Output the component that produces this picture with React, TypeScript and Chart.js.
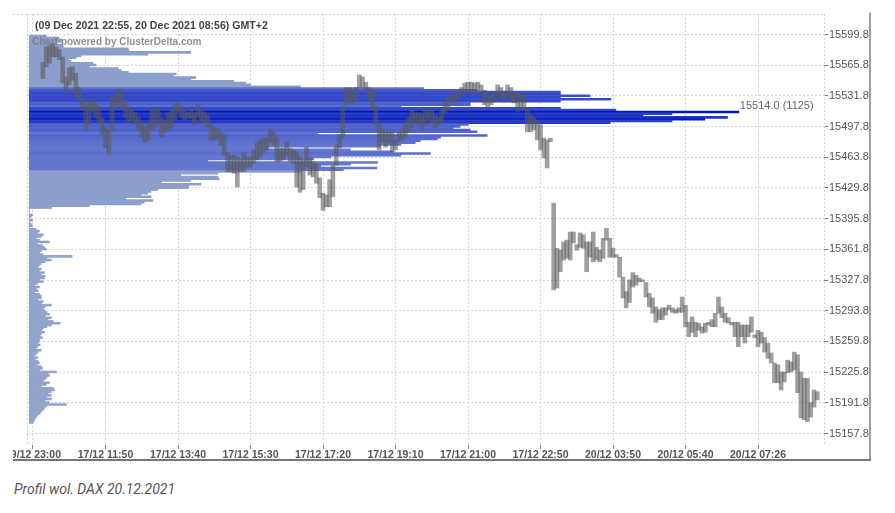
import React, { useEffect, useRef } from 'react';
import { Chart, registerables } from 'chart.js';

Chart.register(...registerables);

// ---------- data ----------
const titleText = '(09 Dec 2021 22:55, 20 Dec 2021 08:56) GMT+2';
const watermarkText = 'Chart powered by ClusterDelta.com';
const captionText = 'Profil wol. DAX 20.12.2021';

// x axis: tick positions (bar index) and labels
const xTickIndex = [0, 22, 44, 66, 88, 110, 132, 154, 176, 198, 220];
const xTickLabels = [
  '09/12 23:00', '17/12 11:50', '17/12 13:40', '17/12 15:30', '17/12 17:20', '17/12 19:10',
  '17/12 21:00', '17/12 22:50', '20/12 03:50', '20/12 05:40', '20/12 07:26',
];
const firstBarIndex = 3;

// y axis ticks (price)
const yTickValues = [
  15157.8, 15191.8, 15225.8, 15259.8, 15293.8, 15327.8, 15361.8,
  15395.8, 15429.8, 15463.8, 15497.8, 15531.8, 15565.8, 15599.8,
];

// price bars (high / low), one per bar
const candleHigh = [
  15569, 15586, 15588, 15590, 15586, 15583, 15575, 15553, 15563, 15564,
  15557, 15541, 15529, 15520, 15527, 15529, 15524, 15520, 15507, 15497,
  15494, 15531, 15535, 15539, 15535, 15527, 15520, 15516, 15514, 15508,
  15502, 15497, 15502, 15516, 15518, 15518, 15507, 15505, 15513, 15516,
  15522, 15524, 15520, 15516, 15514, 15520, 15513, 15522, 15516, 15514,
  15511, 15500, 15497, 15496, 15492, 15489, 15469, 15466, 15466, 15464,
  15461, 15469, 15464, 15464, 15472, 15480, 15483, 15485, 15485, 15494,
  15492, 15486, 15474, 15474, 15481, 15474, 15472, 15470, 15464, 15461,
  15475, 15463, 15459, 15457, 15441, 15424, 15422, 15439, 15455, 15477,
  15489, 15520, 15541, 15541, 15536, 15541, 15555, 15553, 15547, 15541,
  15538, 15520, 15502, 15496, 15491, 15492, 15492, 15483, 15492, 15496,
  15502, 15508, 15516, 15513, 15513, 15511, 15516, 15516, 15516, 15511,
  15508, 15516, 15524, 15531, 15535, 15533, 15536, 15541, 15546, 15547,
  15547, 15546, 15547, 15544, 15538, 15533, 15533, 15535, 15544, 15541,
  15535, 15544, 15541, 15535, 15535, 15535, 15533, 15516, 15511, 15508,
  15505, 15500, 15485, 15483, 15485, 15413, 15363, 15361, 15370, 15372,
  15381, 15381, 15367, 15380, 15378, 15370, 15370, 15381, 15364, 15361,
  15374, 15385, 15374, 15363, 15356, 15353, 15331, 15315, 15328, 15336,
  15333, 15330, 15328, 15325, 15313, 15308, 15298, 15295, 15297, 15297,
  15300, 15297, 15295, 15297, 15309, 15300, 15281, 15287, 15281, 15280,
  15276, 15280, 15281, 15284, 15291, 15309, 15298, 15291, 15286, 15281,
  15281, 15281, 15278, 15278, 15278, 15287, 15267, 15272, 15270, 15264,
  15258, 15247, 15236, 15234, 15226, 15226, 15239, 15237, 15248, 15245,
  15226, 15219, 15219, 15192, 15206, 15204,
];
const candleLow = [
  15551, 15564, 15568, 15575, 15575, 15572, 15546, 15537, 15544, 15549,
  15531, 15527, 15516, 15494, 15500, 15514, 15508, 15502, 15489, 15474,
  15467, 15494, 15518, 15520, 15518, 15508, 15503, 15505, 15500, 15494,
  15486, 15480, 15483, 15494, 15497, 15502, 15486, 15491, 15494, 15497,
  15505, 15513, 15508, 15505, 15507, 15507, 15500, 15508, 15503, 15502,
  15497, 15483, 15483, 15483, 15477, 15466, 15448, 15448, 15446, 15431,
  15448, 15448, 15453, 15453, 15457, 15461, 15464, 15469, 15472, 15480,
  15477, 15459, 15459, 15461, 15466, 15459, 15457, 15431, 15425, 15428,
  15453, 15444, 15442, 15435, 15419, 15405, 15409, 15409, 15420, 15455,
  15474, 15486, 15522, 15524, 15524, 15525, 15541, 15541, 15538, 15527,
  15516, 15500, 15472, 15481, 15475, 15480, 15470, 15472, 15481, 15483,
  15486, 15492, 15497, 15502, 15500, 15494, 15500, 15505, 15502, 15497,
  15500, 15502, 15513, 15516, 15525, 15524, 15529, 15533, 15535, 15538,
  15535, 15535, 15536, 15535, 15522, 15518, 15522, 15525, 15531, 15529,
  15525, 15531, 15525, 15524, 15514, 15520, 15516, 15492, 15492, 15494,
  15483, 15472, 15463, 15452, 15481, 15317, 15319, 15337, 15350, 15352,
  15350, 15369, 15361, 15364, 15363, 15337, 15353, 15348, 15350, 15348,
  15352, 15372, 15353, 15353, 15353, 15331, 15308, 15297, 15303, 15320,
  15322, 15326, 15326, 15309, 15298, 15291, 15281, 15284, 15284, 15289,
  15295, 15292, 15291, 15292, 15292, 15276, 15265, 15270, 15265, 15272,
  15269, 15270, 15278, 15276, 15276, 15291, 15286, 15281, 15280, 15278,
  15265, 15254, 15265, 15258, 15265, 15270, 15264, 15254, 15258, 15248,
  15241, 15236, 15214, 15214, 15206, 15215, 15225, 15226, 15228, 15203,
  15175, 15173, 15171, 15176, 15187, 15195,
];

// volume profile: volumes on a 2-point price grid, top to bottom
const profileStep = 2;
const profileUpperTop = 15598;
const profileUpper = [
  27, 47, 51, 51, 43, 51, 54, 157, 158, 256,
  188, 82, 74, 63, 66, 101, 106, 95, 141, 146,
  157, 233, 228, 264, 256, 324, 343, 351, 430, 625,
  710, 842, 842, 889, 842, 922, 842, 699, 699, 589,
  842, 930, 1125, 1019, 973, 1107, 1071, 1019, 921, 696,
  683, 672, 699, 710, 457, 726, 652, 647, 620, 612,
  589, 557, 378, 509, 577, 636, 589, 478, 451, 283,
  552, 509, 462, 551, 498, 430, 299, 240, 299, 301,
  256, 209, 272, 253, 252, 204, 193, 188, 177, 193,
  153, 196, 182, 177, 95, 35, 0, 0, 0, 5,
  3, 0, 5, 0, 3, 5, 0,
];
const profileLowerTop = 15384;
const profileLower = [
  11, 16, 13, 22, 19, 11, 16, 32, 13, 21,
  24, 27, 19, 16, 22, 68, 28, 35, 25, 19,
  16, 14, 19, 16, 24, 19, 25, 24, 16, 22,
  13, 9, 16, 11, 14, 9, 16, 19, 19, 14,
  22, 19, 35, 25, 22, 25, 28, 32, 25, 35,
  30, 38, 49, 35, 28, 22, 19, 24, 19, 17,
  21, 16, 16, 14, 17, 13, 11, 19, 14, 11,
  8, 13, 9, 14, 16, 13, 19, 21, 17, 43,
  30, 32, 28, 25, 22, 32, 27, 19, 38, 40,
  35, 30, 35, 28, 35, 25, 32, 59, 27, 24,
  22, 19, 17, 14, 11, 9, 8, 6,
];
const pocPrice = 15514.0;
const pocVolume = 1125;
const valueAreaHigh = 15541;
const valueAreaLow = 15449;

// ---------- derived ----------
const candleData = candleHigh.map((h, j) => ({ x: j + firstBarIndex, y: [candleLow[j], h] }));
const profileData = [
  ...profileUpper.map((v, i) => ({ x: v, y: profileUpperTop - i * profileStep })),
  ...profileLower.map((v, i) => ({ x: v, y: profileLowerTop - i * profileStep })),
];
const profileColors = profileData.map((d, i) => {
  if (d.y >= valueAreaLow && d.y <= valueAreaHigh) {
    let t = Math.min(1, Math.max(0, (d.x / pocVolume - 0.5) / 0.5));
    if (i % 2 === 1) t *= 0.7;
    const r = Math.round(100 * (1 - t) + 0 * t);
    const g = Math.round(118 * (1 - t) + 24 * t);
    const b = Math.round(206 * (1 - t) + 192 * t);
    return `rgb(${r},${g},${b})`;
  }
  return d.y < profileLowerTop + 1 ? 'rgb(146,164,204)' : 'rgb(140,158,203)';
});

const FONT = '"Liberation Sans", Arial, sans-serif';

const overlayPlugin = {
  id: 'overlay',
  beforeDatasetsDraw(chart: any) {
    const { ctx, chartArea: a } = chart;
    ctx.save();
    ctx.strokeStyle = '#d2d2d2';
    ctx.lineWidth = 1;
    ctx.setLineDash([2, 2]);
    ctx.beginPath();
    ctx.moveTo(0, Math.round(a.top) + 0.5);
    ctx.lineTo(a.right, Math.round(a.top) + 0.5);
    ctx.moveTo(Math.round(a.left) + 0.5, a.top);
    ctx.lineTo(Math.round(a.left) + 0.5, a.bottom);
    ctx.moveTo(Math.round(a.right) + 0.5, a.top);
    ctx.lineTo(Math.round(a.right) + 0.5, a.bottom);
    ctx.stroke();
    ctx.restore();
  },
  afterDraw(chart: any) {
    const { ctx, scales } = chart;
    const W = chart.width;
    const H = chart.height;
    ctx.save();
    // frame
    ctx.strokeStyle = '#777';
    ctx.lineWidth = 2;
    ctx.beginPath();
    ctx.moveTo(0, H - 1);
    ctx.lineTo(W, H - 1);
    ctx.stroke();
    ctx.lineWidth = 1.4;
    ctx.beginPath();
    ctx.moveTo(W - 1, 12.5);
    ctx.lineTo(W - 1, H);
    ctx.stroke();
    // title
    ctx.textBaseline = 'alphabetic';
    ctx.textAlign = 'left';
    ctx.fillStyle = '#444';
    ctx.font = `bold 10.6px ${FONT}`;
    ctx.fillText(titleText, 22, 29);
    // watermark
    ctx.fillStyle = 'rgba(125,125,125,0.85)';
    ctx.font = `bold 10px ${FONT}`;
    ctx.fillText(watermarkText, 19, 44.5);
    // POC label
    const px = scales.xv.getPixelForValue(pocVolume) + 1;
    const py = scales.y.getPixelForValue(pocPrice) - 2.5;
    ctx.fillStyle = '#666';
    ctx.font = `11px ${FONT}`;
    ctx.fillText(`${pocPrice.toFixed(1)} (${pocVolume})`, px, py);
    ctx.restore();
  },
};

export default function App() {
  const ref = useRef<HTMLCanvasElement>(null);
  useEffect(() => {
    const canvas = ref.current;
    if (!canvas) return;
    const chart = new Chart(canvas, {
      type: 'bar',
      data: {
        datasets: [
          {
            label: 'price',
            data: candleData as any,
            xAxisID: 'x',
            yAxisID: 'y',
            indexAxis: 'x',
            grouped: false,
            barThickness: 4,
            backgroundColor: 'rgba(90,90,90,0.58)',
            borderWidth: 0,
            order: 0,
          } as any,
          {
            label: 'profile',
            data: profileData as any,
            xAxisID: 'xv',
            yAxisID: 'y',
            indexAxis: 'y',
            grouped: false,
            barThickness: 1.9,
            backgroundColor: profileColors,
            borderWidth: 0,
            order: 1,
          } as any,
        ],
      },
      options: {
        animation: false,
        responsive: false,
        events: [],
        devicePixelRatio: 1,
        layout: { padding: { left: 14, top: 14, right: 0, bottom: 0 } },
        plugins: { legend: { display: false }, tooltip: { enabled: false }, title: { display: false } },
        scales: {
          x: {
            type: 'linear',
            position: 'bottom',
            min: -1.82,
            max: 240.02,
            offset: false,
            afterBuildTicks: (s: any) => {
              s.ticks = xTickIndex.map((v) => ({ value: v }));
            },
            afterFit: (s: any) => {
              s.height = 16;
              s.paddingLeft = 0;
              s.paddingRight = 0;
            },
            ticks: {
              autoSkip: false,
              maxRotation: 0,
              minRotation: 0,
              padding: 0,
              color: '#555',
              font: { family: FONT, size: 10.5, weight: 'bold' },
              callback: (_v: any, i: number) => xTickLabels[i],
            },
            grid: { color: '#d6d6d6', offset: false, tickLength: 4, tickColor: '#888', drawTicks: true },
            border: { display: false, dash: [2, 2] },
          } as any,
          y: {
            type: 'linear',
            position: 'right',
            min: 15145.06,
            max: 15622.51,
            offset: false,
            beginAtZero: false,
            afterBuildTicks: (s: any) => {
              s.ticks = yTickValues.map((v) => ({ value: v }));
            },
            afterFit: (s: any) => {
              s.width = 47;
              s.paddingTop = 0;
              s.paddingBottom = 0;
            },
            ticks: {
              padding: 1,
              color: '#555',
              font: { family: FONT, size: 11 },
              callback: (v: any) => Number(v).toFixed(1),
            },
            grid: { color: '#d6d6d6', offset: false, tickLength: 4, tickColor: '#777', drawTicks: true },
            border: { display: false, dash: [2, 2] },
          } as any,
          xv: {
            type: 'linear',
            axis: 'x',
            position: 'top',
            display: false,
            min: -3.6,
            max: 1260,
            offset: false,
          } as any,
        },
      },
      plugins: [overlayPlugin],
    } as any);
    return () => chart.destroy();
  }, []);

  return (
    <div style={{ position: 'absolute', left: 0, top: 0, width: 895, height: 513, background: '#fff' }}>
      <canvas
        ref={ref}
        width={858}
        height={461}
        style={{ position: 'absolute', left: 13, top: 0, width: 858, height: 461, display: 'block' }}
      />
      <div
        style={{
          position: 'absolute',
          left: 14,
          top: 482,
          font: 'italic 14px Roboto, sans-serif',
          lineHeight: '14px',
          color: '#555',
          whiteSpace: 'nowrap',
        }}
      >
        {captionText}
      </div>
    </div>
  );
}
